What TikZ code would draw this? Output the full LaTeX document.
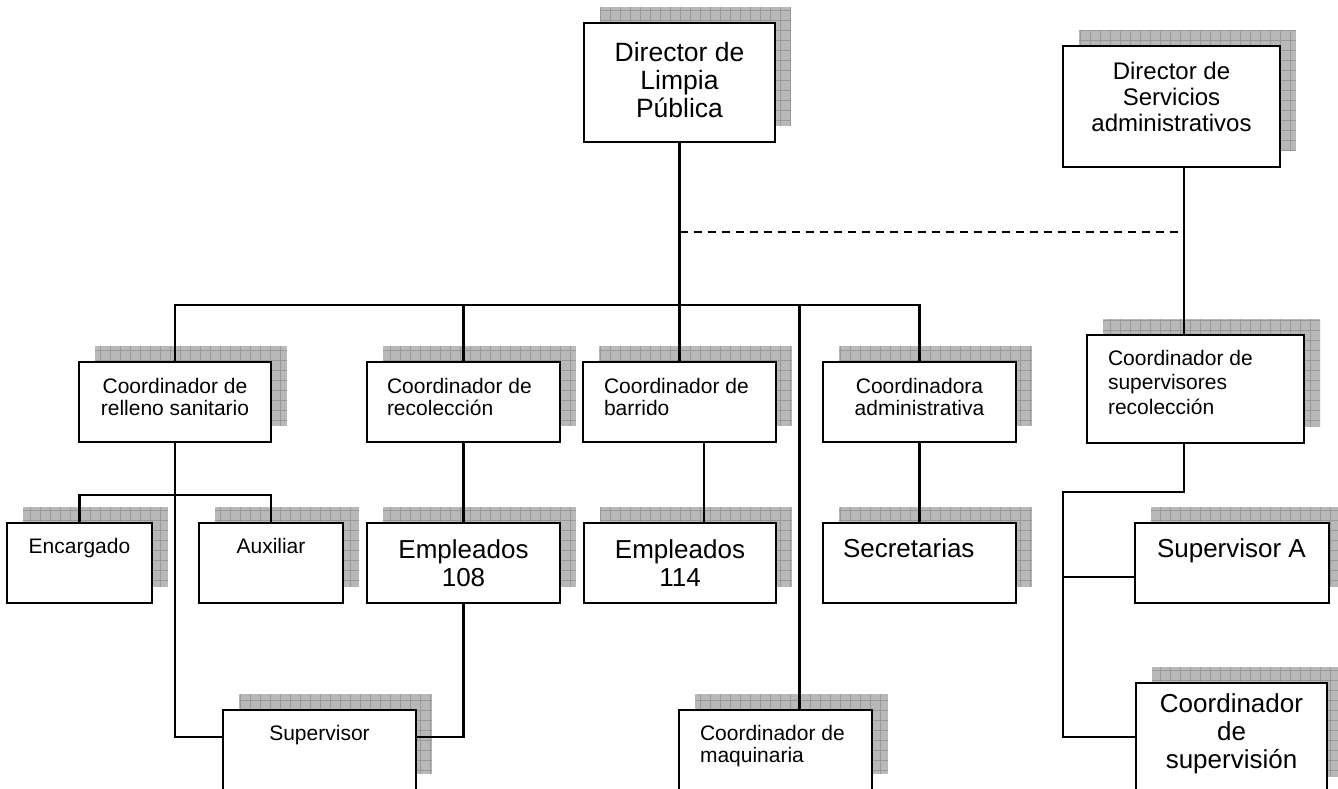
\documentclass[tikz,border=0pt]{standalone}
\usepackage{fontspec}
\setmainfont{Liberation Sans}
\usetikzlibrary{calc}
\pgfdeclarelayer{paper}
\pgfdeclarelayer{shadows}
\pgfsetlayers{paper,shadows,main}

\tikzset{
  orgbox/.style={draw, line width=2pt, fill=white, inner sep=0pt, outer sep=0pt, anchor=north west},
  link/.style={line width=2.2pt},
  dashlink/.style={line width=1.8pt, dash pattern=on 8pt off 6pt},
  shadowfill/.style={fill=black!28},
  shadowgrid/.style={draw=black!40, line width=0.7pt},
}

% #1 width, #2 height, #3 first baseline below top, #4 font size, #5 baselineskip,
% #6 alignment, #7 lines
\newcommand\boxcontent[7]{%
  \parbox[c][#2pt][t]{#1pt}{\fontsize{#4}{#5}\selectfont\lineskiplimit=-100pt
    #6\vspace*{\dimexpr#3pt-\ht\strutbox\relax}\strut #7}}

% grid-hatched shadow behind a box, offset up and to the right
\newcommand\gridshadow[1]{%
  \begin{scope}
    \path[clip] ($(#1.north west)+(16,-16)$) rectangle ($(#1.south east)+(16,-16)$);
    \fill[shadowfill] ($(#1.north west)+(16,-16)$) rectangle ($(#1.south east)+(16,-16)$);
    \draw[shadowgrid, step=10pt] ($(#1.north west)+(16,-16)$) grid ($(#1.south east)+(16,-16)$);
  \end{scope}}

\newcommand\leftind[1]{\raggedright\leftskip=#1pt\relax}

\begin{document}
\begin{tikzpicture}[x=1pt, y=-1pt]
  \useasboundingbox (0,0) rectangle (1338,789);
  \begin{pgfonlayer}{paper}
    \fill[white] (0,0) rectangle (1338,789);
  \end{pgfonlayer}
  \clip (0,0) rectangle (1338,789);

  % top level
  \node[orgbox] (dlp) at (584,23) {\boxcontent{191}{119}{39}{26.5}{28}{\centering}{Director de\\Limpia\\Pública}};
  \node[orgbox] (dsa) at (1063,46) {\boxcontent{217}{121}{34}{24}{26}{\centering}{Director de\\Servicios\\administrativos}};

  % coordinators
  \node[orgbox] (crs) at (79,362) {\boxcontent{192}{80}{31}{21}{22.5}{\centering}{Coordinador de\\relleno sanitario}};
  \node[orgbox] (crc) at (367,362) {\boxcontent{193}{80}{31}{21}{22.5}{\leftind{20}}{Coordinador de\\recolección}};
  \node[orgbox] (cba) at (583,362) {\boxcontent{193}{80}{31}{21}{22.5}{\leftind{21}}{Coordinador de\\barrido}};
  \node[orgbox] (cad) at (823,362) {\boxcontent{193}{80}{31}{21}{22.5}{\centering}{Coordinadora\\administrativa}};
  \node[orgbox] (csr) at (1087,335) {\boxcontent{217}{108}{30}{21}{24.5}{\leftind{21}}{Coordinador de\\supervisores\\recolección}};

  % staff
  \node[orgbox] (enc) at (7,523) {\boxcontent{145}{80}{30}{21}{23}{\centering}{Encargado}};
  \node[orgbox] (aux) at (199,523) {\boxcontent{144}{80}{30}{21}{23}{\centering}{Auxiliar}};
  \node[orgbox] (e108) at (367,523) {\boxcontent{193}{80}{35}{26}{28}{\centering}{Empleados\\108}};
  \node[orgbox] (e114) at (584,523) {\boxcontent{192}{80}{35}{26}{28}{\centering}{Empleados\\114}};
  \node[orgbox] (sec) at (823,523) {\boxcontent{193}{80}{34}{26}{28}{\leftind{20}}{Secretarias}};
  \node[orgbox] (supA) at (1135,523) {\boxcontent{194}{80}{34}{26}{28}{\leftind{22}}{Supervisor A}};

  % bottom row
  \node[orgbox] (sup) at (223,710) {\boxcontent{193}{80}{30}{21}{23}{\centering}{Supervisor}};
  \node[orgbox] (cmq) at (679,710) {\boxcontent{193}{80}{30}{21}{22}{\leftind{21}}{Coordinador de\\maquinaria}};
  \node[orgbox] (csu) at (1136,683) {\boxcontent{191}{110}{29}{26}{28}{\centering}{Coordinador\\de\\supervisión}};

  \begin{pgfonlayer}{shadows}
    \foreach \b in {dlp,dsa,crs,crc,cba,cad,csr,enc,aux,e108,e114,sec,supA,sup,cmq,csu}{\gridshadow{\b}}
  \end{pgfonlayer}

  % connectors
  \coordinate (bus) at (679,305);
  \coordinate (dashend) at (1178,232);
  \coordinate (spine) at (1063,492);

  \draw[link] (dlp.south) -- (cba.north);
  \draw[dashlink] (dlp.south |- dashend) -- (dashend);
  \draw[link] (crs.north) |- (bus) -| (cad.north);
  \draw[link] (crc.north) -- (crc.north |- bus);
  \draw[link] ([xshift=24pt]cmq.north) -- ([xshift=24pt]cmq.north |- bus);

  \draw[link] (crs.south) |- ($(sup.north west)+(0,27)$);
  \draw[link] (enc.north) -- ++(0,-28) -| (aux.north);
  \draw[link] (crc.south) -- (e108.north);
  \draw[link] (e108.south) |- ($(sup.north east)+(0,27)$);
  \draw[link] ([xshift=24.5pt]cba.south) -- ([xshift=24.5pt]cba.south |- e114.north);
  \draw[link] (cad.south) -- (sec.north);

  \draw[link] ([xshift=12.5pt]dsa.south) -- ([xshift=-11.5pt]csr.north);
  \draw[link] ([xshift=-11.5pt]csr.south) |- (spine) |- ($(csu.north west)+(0,54)$);
  \draw[link] (spine |- {$(supA.north west)+(0,54)$}) -- ($(supA.north west)+(0,54)$);
\end{tikzpicture}
\end{document}
